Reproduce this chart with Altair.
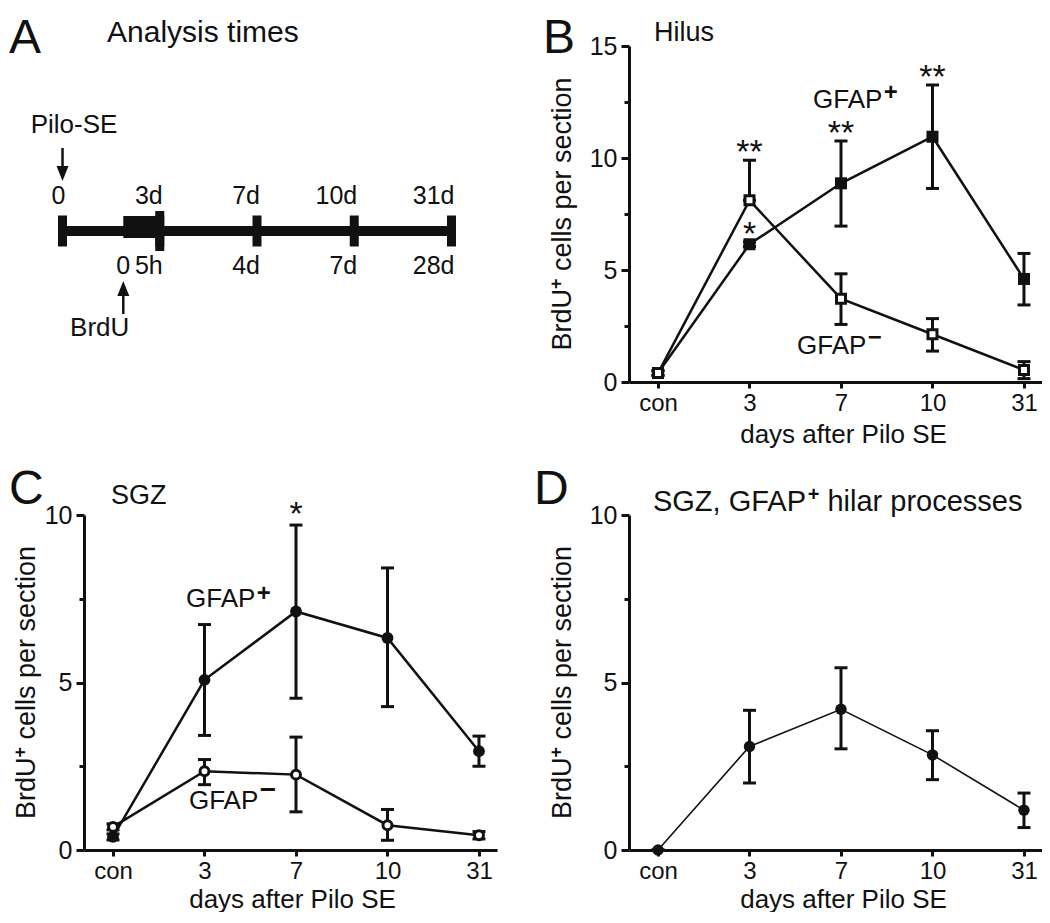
import altair as alt
import pandas as pd

FONT = "Liberation Sans"
INK = "#111111"

# ---------------- data ----------------
days = ["con", "3", "7", "10", "31"]

# B  Hilus
hilus_pos_mean = [0.4, 6.15, 8.87, 10.95, 4.6]
hilus_pos_lo = [0.3, 6.05, 6.96, 8.64, 3.44]
hilus_pos_hi = [0.5, 6.25, 10.76, 13.26, 5.74]
hilus_pos_sig = ["", "*", "**", "**", ""]
hilus_neg_mean = [0.4, 8.11, 3.72, 2.13, 0.54]
hilus_neg_lo = [0.3, 8.11, 2.57, 1.38, 0.15]
hilus_neg_hi = [0.5, 9.9, 4.83, 2.83, 0.91]
hilus_neg_sig = ["", "**", "", "", ""]

# C  SGZ
sgz_pos_mean = [0.39, 5.08, 7.12, 6.33, 2.95]
sgz_pos_lo = [0.3, 3.42, 4.53, 4.28, 2.5]
sgz_pos_hi = [0.48, 6.73, 9.7, 8.42, 3.4]
sgz_pos_sig = ["", "", "*", "", ""]
sgz_neg_mean = [0.69, 2.35, 2.25, 0.74, 0.44]
sgz_neg_lo = [0.6, 1.95, 1.14, 0.29, 0.33]
sgz_neg_hi = [0.78, 2.7, 3.37, 1.21, 0.55]
sgz_neg_sig = ["", "", "", "", ""]

# D  SGZ, GFAP+ hilar processes
proc_mean = [0.0, 3.09, 4.2, 2.84, 1.19]
proc_lo = [0.0, 2.0, 3.02, 2.1, 0.67]
proc_hi = [0.0, 4.17, 5.44, 3.56, 1.7]
proc_sig = ["", "", "", "", ""]

# A  timeline
timeline_top = ["0", "3d", "7d", "10d", "31d"]
timeline_bottom = ["", "5h", "4d", "7d", "28d"]

# ---------------- helpers ----------------
ARIAL = {' ': 278, ',': 278, '-': 333, '+': 584, '\u2212': 584, 'A': 667, 'B': 667, 'C': 722,
         'D': 722, 'E': 667, 'F': 611, 'G': 778, 'H': 722, 'P': 667, 'S': 667, 'U': 722,
         'Z': 611, 'a': 556, 'c': 500, 'd': 556, 'e': 556, 'h': 556, 'i': 222, 'l': 222,
         'm': 833, 'n': 556, 'o': 556, 'p': 556, 'r': 333, 's': 500, 't': 278, 'u': 556,
         'y': 500}


def adv(s, fs):
    return sum(ARIAL.get(ch, 556) for ch in s) / 1000.0 * fs


def txt(x, y, text, fs, xs, ys, align="left", dx=0, dy=0, weight="normal", angle=0,
        xaxis=None):
    df = pd.DataFrame({"x": [x], "y": [y], "t": [text]})
    props = dict(font=FONT, fontSize=fs, align=align, baseline="alphabetic", dx=dx, dy=dy,
                 fontWeight=weight, color=INK)
    if angle:
        props["angle"] = angle
    return alt.Chart(df).mark_text(**props).encode(
        x=alt.X("x:Q", scale=xs, axis=xaxis),
        y=alt.Y("y:Q", scale=ys, axis=None),
        text="t:N",
    )


def sup_text(x, y, parts, xs, ys, fs, sfs, sup_dy, xaxis=None, angle=0, start=0.0):
    """Text with a raised superscript piece; pieces laid end to end along the reading line."""
    layers = []
    pos = start
    for k, p in enumerate(parts):
        lead = len(p) - len(p.lstrip(" "))
        size = sfs if k == 1 else fs
        pos += adv(" " * lead, size)
        body = p.lstrip(" ")
        layers.append(txt(x, y, body, size, xs, ys, dx=pos, dy=sup_dy if k == 1 else 0,
                          weight="bold" if k == 1 else "normal", angle=angle, xaxis=xaxis))
        pos += adv(body, size)
    return layers


def frame(name, mean, lo, hi, sig):
    return pd.DataFrame({"i": list(range(len(days))), "day": days, "series": name,
                         "mean": mean, "lo": lo, "hi": hi, "sig": sig})


W = 413
XDOM = [-0.317, 4.197]
LABEL_EXPR = "[" + ",".join("'%s'" % d for d in days) + "][datum.value]"
YTITLE = ["BrdU", "+", " cells per section"]


def data_panel(series, ymax, minor, height, title_x, title_y, ytitle_x, sig_dy, line_w,
               annotations):
    xs = alt.Scale(domain=XDOM, nice=False, zero=False)
    ys = alt.Scale(domain=[0, ymax], nice=False, zero=False)

    x_axis = alt.Axis(
        values=list(range(len(days))), labelExpr=LABEL_EXPR, tickSize=6, tickWidth=3,
        tickColor=INK, domainWidth=3, domainColor=INK, labelFont=FONT, labelFontSize=24,
        labelColor=INK, labelPadding=3, labelFlush=False, labelOverlap=False, grid=False,
        title="days after Pilo SE", titleFont=FONT, titleFontSize=26,
        titleFontWeight="normal", titleColor=INK, titleX=title_x, titleY=title_y,
        titleBaseline="alphabetic", titleAlign="center",
    )
    major_axis = alt.Axis(
        values=list(range(0, ymax + 1, 5)), orient="left", tickSize=8, tickWidth=3,
        tickColor=INK, domainWidth=3, domainColor=INK, labelFont=FONT, labelFontSize=25,
        labelColor=INK, labelPadding=4, labelFlush=False, labelOverlap=False, grid=False,
        title=None,
    )
    minor_axis = alt.Axis(values=minor, orient="left", tickSize=5, tickWidth=3,
                          tickColor=INK, labels=False, domain=False, grid=False, title=None)

    def X():
        return alt.X("i:Q", scale=xs, axis=x_axis)

    all_df = pd.concat([s["df"] for s in series], ignore_index=True)

    lines = alt.Chart(all_df).mark_line(color=INK, strokeWidth=line_w).encode(
        x=X(), y=alt.Y("mean:Q", scale=ys, axis=major_axis), detail="series:N")
    bars = alt.Chart(all_df).mark_rule(color=INK, strokeWidth=3).encode(
        x=X(), y=alt.Y("lo:Q", scale=ys, axis=minor_axis), y2="hi:Q")
    caps = alt.Chart(all_df).transform_fold(["lo", "hi"], as_=["end", "v"]).mark_tick(
        orient="horizontal", size=13, thickness=3, color=INK, opacity=1).encode(
        x=X(), y=alt.Y("v:Q", scale=ys, axis=None))
    markers = []
    for s in series:
        if s["open"]:
            mk = alt.Chart(s["df"]).mark_point(
                shape=s["shape"], filled=True, fill="white", stroke=INK, strokeWidth=3,
                size=s["size"], opacity=1)
        else:
            mk = alt.Chart(s["df"]).mark_point(
                shape=s["shape"], filled=True, color=INK, size=s["size"], opacity=1)
        markers.append(mk.encode(x=X(), y=alt.Y("mean:Q", scale=ys, axis=None)))
    sig = alt.Chart(all_df).mark_text(
        font=FONT, fontSize=34, align="center", baseline="alphabetic", dy=sig_dy,
        color=INK).encode(x=X(), y=alt.Y("hi:Q", scale=ys, axis=None), text="sig:N")

    texts = []
    for a in annotations:
        if "parts" in a:
            texts += sup_text(a["x"], a["y"], a["parts"], xs, ys, fs=a["fs"],
                              sfs=a.get("sfs", 24), sup_dy=a.get("sup_dy", -8),
                              xaxis=x_axis)
        else:
            texts.append(txt(a["x"], a["y"], a["text"], a["fs"], xs, ys, xaxis=x_axis))

    # rotated y-axis title with a true superscript
    tfs, tsfs = 27, 18
    total = adv(YTITLE[0], tfs) + adv(YTITLE[1], tsfs) + adv(YTITLE[2], tfs)
    title_i = XDOM[0] + ytitle_x / W * (XDOM[1] - XDOM[0])
    texts += sup_text(title_i, ymax / 2.0, YTITLE, xs, ys, fs=tfs, sfs=tsfs, sup_dy=-9,
                      xaxis=x_axis, angle=270, start=-total / 2.0)

    return alt.layer(lines, bars, caps, *markers, sig, *texts).resolve_axis(
        y="independent").properties(width=W, height=height)


# ---------------- panel B ----------------
panel_b = data_panel(
    series=[
        dict(df=frame("GFAP+", hilus_pos_mean, hilus_pos_lo, hilus_pos_hi, hilus_pos_sig),
             shape="square", open=False, size=144),
        dict(df=frame("GFAP-", hilus_neg_mean, hilus_neg_lo, hilus_neg_hi, hilus_neg_sig),
             shape="square", open=True, size=81),
    ],
    ymax=15, minor=[2.5, 7.5, 12.5], height=336, title_x=214, title_y=60, ytitle_x=-58,
    sig_dy=3, line_w=2.5,
    annotations=[
        dict(text="B", x=-1.257, y=14.69, fs=48),
        dict(text="Hilus", x=-0.044, y=15.22, fs=27),
        dict(parts=["GFAP", "+"], x=1.694, y=12.23, fs=26, sup_dy=-8),
        dict(parts=["GFAP", "\u2212"], x=1.52, y=1.25, fs=26, sup_dy=-9),
    ],
)

# ---------------- panel C ----------------
panel_c = data_panel(
    series=[
        dict(df=frame("GFAP+", sgz_pos_mean, sgz_pos_lo, sgz_pos_hi, sgz_pos_sig),
             shape="circle", open=False, size=140),
        dict(df=frame("GFAP-", sgz_neg_mean, sgz_neg_lo, sgz_neg_hi, sgz_neg_sig),
             shape="circle", open=True, size=80),
    ],
    ymax=10, minor=[2.5, 7.5], height=335, title_x=208, title_y=57, ytitle_x=-49,
    sig_dy=0, line_w=2.5,
    annotations=[
        dict(text="C", x=-1.137, y=10.33, fs=48),
        dict(text="SGZ", x=-0.022, y=10.33, fs=27),
        dict(parts=["GFAP", "+"], x=0.798, y=7.25, fs=26, sup_dy=-6),
        dict(parts=["GFAP", "\u2212"], x=0.83, y=1.22, fs=26, sfs=28, sup_dy=-10),
    ],
)

# ---------------- panel D ----------------
panel_d = data_panel(
    series=[
        dict(df=frame("GFAP+ processes", proc_mean, proc_lo, proc_hi, proc_sig),
             shape="circle", open=False, size=130),
    ],
    ymax=10, minor=[2.5, 7.5], height=335, title_x=214, title_y=57, ytitle_x=-58,
    sig_dy=0, line_w=1.6,
    annotations=[
        dict(text="D", x=-1.355, y=10.33, fs=48),
        dict(parts=["SGZ, GFAP", "+", " hilar processes"], x=-0.055, y=10.12, fs=29,
             sfs=20, sup_dy=-10),
    ],
)

# ---------------- panel A (timeline schematic) ----------------
AX = alt.Scale(domain=[0.221, 4.468], nice=False, zero=False)
AY = alt.Scale(domain=[-15.1, 18.5], nice=False, zero=False)
events = pd.DataFrame({"i": list(range(len(timeline_top))), "top": timeline_top,
                       "bottom": timeline_bottom, "lvl": 0.0})
pulse_start = 1 - 0.375  # BrdU injection, 5 h before the 3 d analysis


def ax(field="i:Q"):
    return alt.X(field, scale=AX, axis=None)


def ay(field):
    return alt.Y(field, scale=AY, axis=None)


bar = alt.Chart(events).transform_aggregate(
    a="min(i)", b="max(i)", lvl="mean(lvl)").mark_rule(
    color=INK, strokeWidth=10).encode(x=ax("a:Q"), x2="b:Q", y=ay("lvl:Q"))
ticks = alt.Chart(events).mark_tick(orient="vertical", size=31, thickness=9, color=INK,
                                    opacity=1).encode(x=ax(), y=ay("lvl:Q"))
tick3 = alt.Chart(events).transform_filter("datum.i == 1").mark_tick(
    orient="vertical", size=40, thickness=9, color=INK, opacity=1).encode(
    x=ax(), y=ay("lvl:Q"))
pulse = alt.Chart(pd.DataFrame({"a": [pulse_start], "b": [1.0], "y": [0.4]})).mark_rule(
    color=INK, strokeWidth=22, strokeCap="butt").encode(x=ax("a:Q"), x2="b:Q", y=ay("y:Q"))
top_lab = alt.Chart(events).transform_calculate(y="2.7").mark_text(
    font=FONT, fontSize=25, align="right", dx=3, baseline="alphabetic", color=INK).encode(
    x=ax(), y=ay("y:Q"), text="top:N")
bot_lab = alt.Chart(events).transform_calculate(y="-4.3").mark_text(
    font=FONT, fontSize=25, align="right", dx=3, baseline="alphabetic", color=INK).encode(
    x=ax(), y=ay("y:Q"), text="bottom:N")

HEAD_DOWN = "M-0.8,-1L0.8,-1L0,1Z"
HEAD_UP = "M-0.8,1L0.8,1L0,-1Z"
arrows = pd.DataFrame({"x": [0.0, pulse_start], "y1": [8.3, -8.3], "y2": [5.75, -5.75]})
shafts = alt.Chart(arrows).mark_rule(color=INK, strokeWidth=2.5).encode(
    x=ax("x:Q"), y=ay("y1:Q"), y2="y2:Q")
head_down = alt.Chart(arrows.iloc[[0]]).mark_point(
    shape=HEAD_DOWN, size=225, filled=True, color=INK, opacity=1).encode(
    x=ax("x:Q"), y=ay("y2:Q"))
head_up = alt.Chart(arrows.iloc[[1]]).mark_point(
    shape=HEAD_UP, size=225, filled=True, color=INK, opacity=1).encode(
    x=ax("x:Q"), y=ay("y2:Q"))

# white pixel marking the top edge of the figure (keeps the layout anchored)
anchor = alt.Chart(pd.DataFrame({"x": [2.0], "y": [22.2]})).mark_point(
    shape="square", size=1, filled=True, color="white", opacity=1).encode(
    x=ax("x:Q"), y=ay("y:Q"))

a_texts = [
    txt(-0.55, 17.8, "A", 48, AX, AY),
    txt(0.458, 18.9, "Analysis times", 30, AX, AY),
    txt(0.118, 9.8, "Pilo-SE", 26, AX, AY, align="center"),
    txt(pulse_start, -4.3, "0", 25, AX, AY, align="center"),
    txt(pulse_start, -10.5, "BrdU", 26, AX, AY, align="right", dx=6),
]

panel_a = alt.layer(anchor, bar, ticks, tick3, pulse, top_lab, bot_lab, shafts, head_down,
                    head_up, *a_texts).properties(width=W, height=336)

chart = alt.concat(
    panel_a, panel_b, panel_c, panel_d, columns=2,
    spacing=alt.RowColnumber(row=133, column=132), bounds="flush",
).properties(padding=0).configure_view(stroke=None)

chart.save("out.html", embed_options={"renderer": "svg", "actions": False})
